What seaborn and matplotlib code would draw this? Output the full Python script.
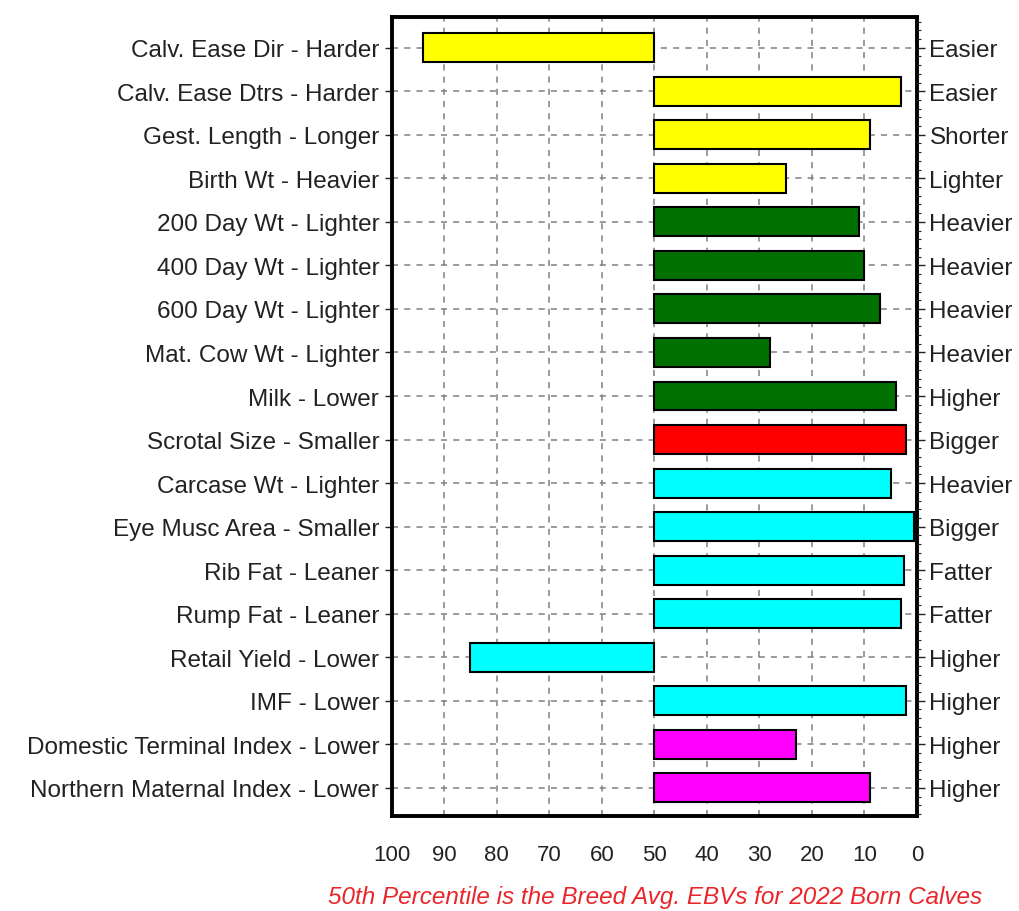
import numpy as np
import pandas as pd
import seaborn as sns
import matplotlib.pyplot as plt
from matplotlib.ticker import MultipleLocator, FixedLocator, FuncFormatter

# trait names, percentile bands and direction labels
traits_left = ['Calv. Ease Dir - Harder', 'Calv. Ease Dtrs - Harder', 'Gest. Length - Longer',
               'Birth Wt - Heavier', '200 Day Wt - Lighter', '400 Day Wt - Lighter',
               '600 Day Wt - Lighter', 'Mat. Cow Wt - Lighter', 'Milk - Lower',
               'Scrotal Size - Smaller', 'Carcase Wt - Lighter', 'Eye Musc Area - Smaller',
               'Rib Fat - Leaner', 'Rump Fat - Leaner', 'Retail Yield - Lower', 'IMF - Lower',
               'Domestic Terminal Index - Lower', 'Northern Maternal Index - Lower']
traits_right = ['Easier', 'Easier', 'Shorter', 'Lighter', 'Heavier', 'Heavier', 'Heavier',
                'Heavier', 'Higher', 'Bigger', 'Heavier', 'Bigger', 'Fatter', 'Fatter',
                'Higher', 'Higher', 'Higher', 'Higher']
percentile = [94, 3, 9, 25, 11, 10, 7, 28, 4, 2, 5, 0.5, 2.5, 3, 85, 2, 23, 9]
group = ['calving'] * 4 + ['growth'] * 5 + ['fertility'] + ['carcase'] * 6 + ['index'] * 2
group_colors = {'calving': '#ffff00', 'growth': '#007000', 'fertility': '#ff0000',
                'carcase': '#00ffff', 'index': '#ff00ff'}

df = pd.DataFrame({'trait': traits_left, 'pct': percentile, 'group': group})
df['dev'] = df['pct'] - 50   # bars start at the breed average (50th percentile)

sns.set_style('white')
plt.rcParams['font.family'] = ['Liberation Sans', 'DejaVu Sans']

fig = plt.figure(figsize=(10.2, 9.12), dpi=100)
ax = fig.add_axes([0.384, 0.104, 0.515, 0.876])

sns.barplot(data=df, y='trait', x='dev', hue='group', palette=group_colors,
            saturation=1, dodge=False, width=0.665, edgecolor='black', linewidth=1.5,
            legend=False, ax=ax, zorder=3)

ax.set_xlim(50, -50)
ax.set_ylim(len(df) - 0.35, -0.7)
ax.xaxis.set_major_locator(FixedLocator(np.arange(-50, 51, 10)))
ax.xaxis.set_minor_locator(FixedLocator(np.arange(-50, 51, 2)))
ax.xaxis.set_major_formatter(FuncFormatter(lambda v, p: f'{v + 50:.0f}'))
ax.set_xlabel('')
ax.set_ylabel('')
ax.grid(True, which='major', color='#808080', linestyle=(0, (4, 4)), linewidth=1.1, zorder=0)
ax.set_axisbelow(True)

for s in ax.spines.values():
    s.set_visible(True)
    s.set_color('black')
    s.set_linewidth(2.8)

ax.tick_params(axis='x', which='major', length=6, width=1, direction='out', labelsize=16, pad=14)
ax.tick_params(axis='x', which='minor', length=3, width=0.8, direction='out')
ax.tick_params(axis='y', which='major', length=5, width=1, direction='out', labelsize=17.5, pad=4)
ax.tick_params(axis='y', colors='#222222')
ax.tick_params(axis='x', colors='#222222')

ax2 = ax.twinx()
ax2.set_ylim(ax.get_ylim())
ax2.set_yticks(range(len(traits_right)))
ax2.set_yticklabels(traits_right)
ax2.yaxis.set_minor_locator(MultipleLocator(0.2))
ax2.tick_params(axis='y', which='major', length=6, width=1, labelsize=17.5, pad=3, colors='#222222')
ax2.tick_params(axis='y', which='minor', length=3, width=0.8)
for s in ax2.spines.values():
    s.set_visible(False)

fig.text(0.642, 0.003, '50th Percentile is the Breed Avg. EBVs for 2022 Born Calves',
         color='#e8262b', fontsize=17.5, style='italic', ha='center', va='bottom')

fig.savefig('out.png', dpi=100)
